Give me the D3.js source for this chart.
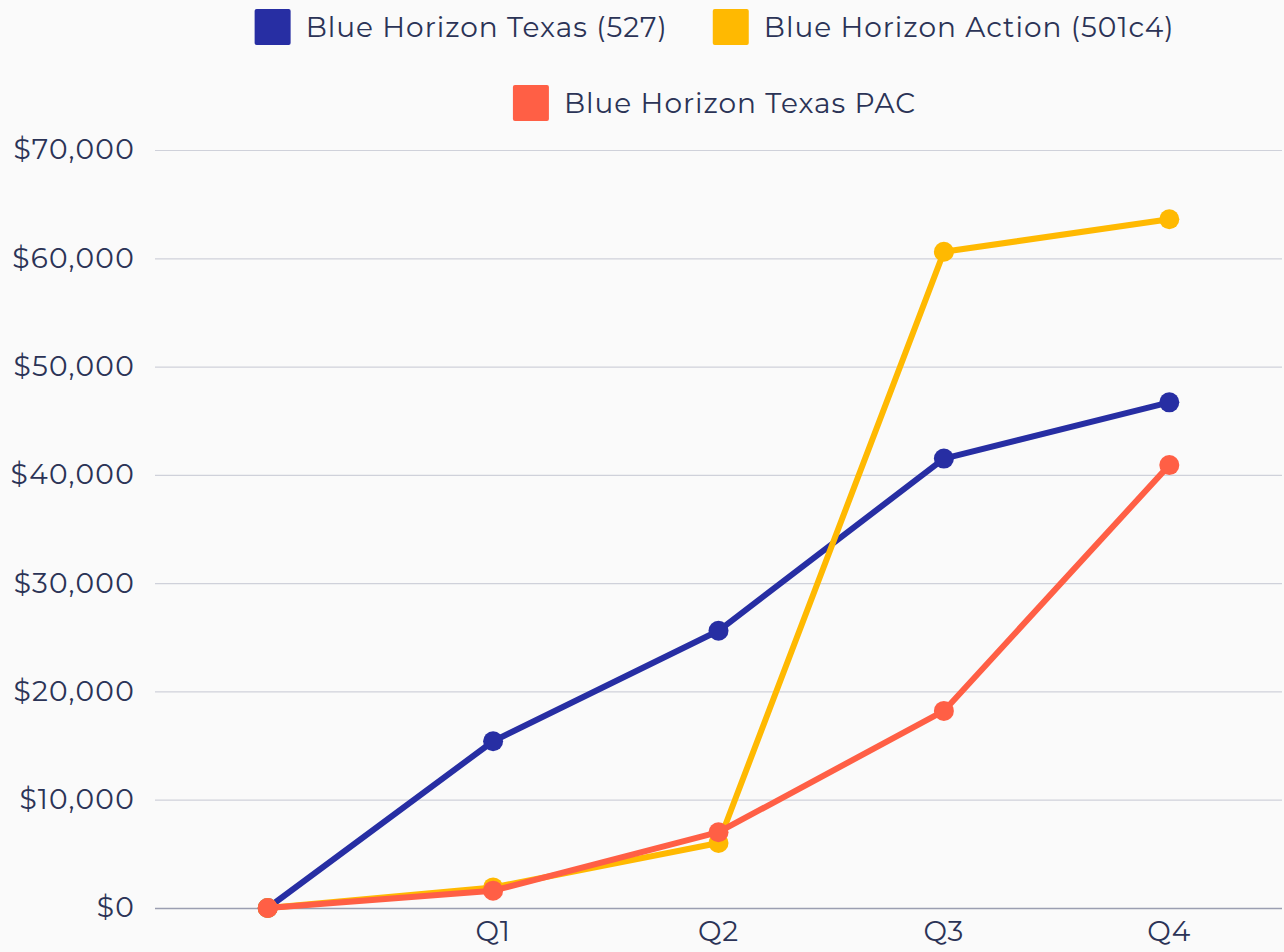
<!DOCTYPE html>
<html>
<head>
<meta charset="utf-8">
<script src="https://cdn.jsdelivr.net/npm/d3@7"></script>
<style>
  body { margin: 0; background: #fafafa; }
  svg { display: block; font-family: Montserrat, "Noto Sans", sans-serif; }
</style>
</head>
<body>
<div id="chart"></div>
<script>
///////////////////////////////////////////////////////////////////////////
//////////////////////////// data /////////////////////////////////////////
///////////////////////////////////////////////////////////////////////////

const quarters = ["", "Q1", "Q2", "Q3", "Q4"];

const seriesNames = [
  "Blue Horizon Texas (527)",
  "Blue Horizon Action (501c4)",
  "Blue Horizon Texas PAC"
];

const texas527 = [0, 15400, 25600, 41500, 46700];
const action501c4 = [0, 1900, 6000, 60600, 63600];
const texasPac = [0, 1600, 7000, 18200, 40900];

const yTicks = [0, 10000, 20000, 30000, 40000, 50000, 60000, 70000];

const colors = ["#272ea3", "#ffb901", "#ff5f45"];

///////////////////////////////////////////////////////////////////////////
//////////////////////////// svg //////////////////////////////////////////
///////////////////////////////////////////////////////////////////////////

const width = 1284,
  height = 952,
  margin = { top: 150, right: 2, bottom: 44, left: 155 };

const textColor = "#2b3356";
const fontFamily = 'Montserrat, "Noto Sans", sans-serif';

const svg = d3.select("#chart")
  .append("svg")
  .attr("width", width)
  .attr("height", height);

const x = d3.scaleBand()
  .domain(quarters)
  .range([margin.left, width - margin.right]);

const y = d3.scaleLinear()
  .domain([0, 70000])
  .range([height - margin.bottom, margin.top]);

const fmt = d3.format("$,");

// grid + y labels
const yAxis = svg.append("g")
  .attr("transform", "translate(" + margin.left + ",0)")
  .call(d3.axisLeft(y)
    .tickValues(yTicks)
    .tickSize(-(width - margin.left - margin.right))
    .tickPadding(20)
    .tickFormat(fmt))
  .attr("font-family", fontFamily);

yAxis.select(".domain").remove();
yAxis.selectAll(".tick line")
  .attr("stroke", (d) => d === 0 ? "#9b9eb1" : "#cfd1da")
  .attr("stroke-width", (d) => d === 0 ? 1.5 : 1.2);
yAxis.selectAll(".tick text")
  .attr("fill", textColor)
  .style("font-size", "28px")
  .style("letter-spacing", "1.3px");

// x labels
const xAxis = svg.append("g")
  .attr("transform", "translate(0," + (height - margin.bottom) + ")")
  .call(d3.axisBottom(x).tickSize(0).tickPadding(13))
  .attr("font-family", fontFamily);

xAxis.select(".domain").remove();
xAxis.selectAll(".tick text")
  .attr("fill", textColor)
  .style("font-size", "28px")
  .style("letter-spacing", "1px");

///////////////////////////////////////////////////////////////////////////
//////////////////////////// plot /////////////////////////////////////////
///////////////////////////////////////////////////////////////////////////

const series = [texas527, action501c4, texasPac];

const line = d3.line()
  .x((d, i) => x(quarters[i]) + x.bandwidth() / 2)
  .y((d) => y(d));

series.forEach(function (values, s) {
  const g = svg.append("g");
  g.append("path")
    .datum(values)
    .attr("d", line)
    .attr("fill", "none")
    .attr("stroke", colors[s])
    .attr("stroke-width", 6)
    .attr("stroke-linejoin", "round");
  g.selectAll("circle")
    .data(values)
    .enter()
    .append("circle")
    .attr("cx", (d, i) => x(quarters[i]) + x.bandwidth() / 2)
    .attr("cy", (d) => y(d))
    .attr("r", 10)
    .attr("fill", colors[s]);
});

///////////////////////////////////////////////////////////////////////////
//////////////////////////// legend ///////////////////////////////////////
///////////////////////////////////////////////////////////////////////////

const legendRows = [[0, 1], [2]];
const legendCenter = (margin.left + width - margin.right) / 2 - 4;

legendRows.forEach(function (row, r) {
  const g = svg.append("g");
  let cx = 0;
  row.forEach(function (s, k) {
    const item = g.append("g").attr("transform", "translate(" + cx + ",0)");
    item.append("rect")
      .attr("x", 0)
      .attr("y", -18)
      .attr("width", 36)
      .attr("height", 36)
      .attr("rx", 2)
      .attr("fill", colors[s]);
    const t = item.append("text")
      .attr("x", 51)
      .attr("dy", "0.35em")
      .attr("fill", textColor)
      .style("font-size", "28px")
      .style("letter-spacing", "1px")
      .text(seriesNames[s]);
    cx += 51 + t.node().getComputedTextLength() + 45;
  });
  const total = cx - 45;
  g.attr("transform", "translate(" + (legendCenter - total / 2) + "," + (27 + r * 76) + ")");
});
</script>
</body>
</html>
